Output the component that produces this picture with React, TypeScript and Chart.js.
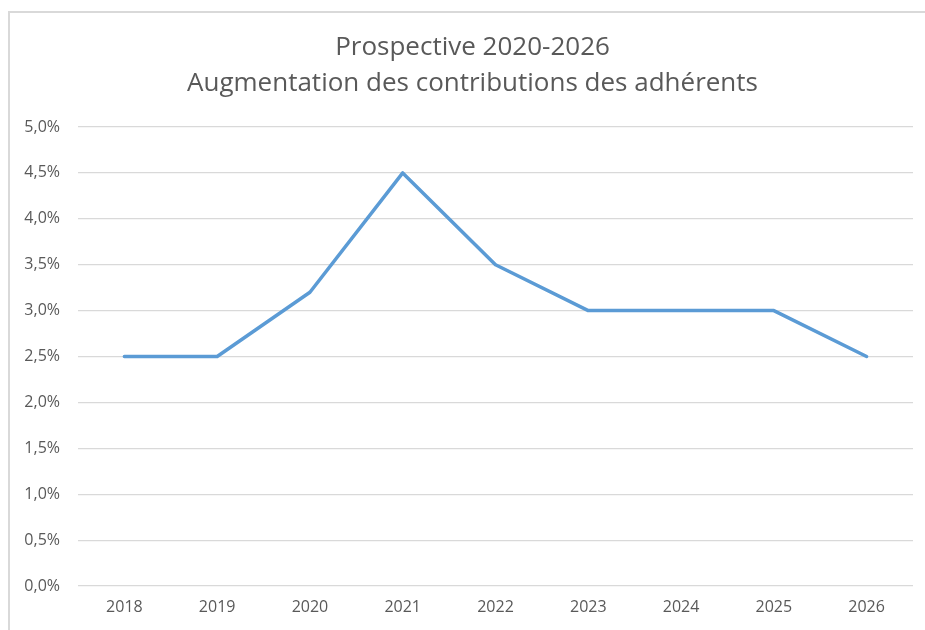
import React, { useEffect, useRef } from "react";
import { Chart, registerables } from "chart.js";

Chart.register(...registerables);

const years = ["2018", "2019", "2020", "2021", "2022", "2023", "2024", "2025", "2026"];
const contributions = [2.5, 2.5, 3.2, 4.5, 3.5, 3.0, 3.0, 3.0, 2.5];
const titleLines = ["Prospective 2020-2026", "Augmentation des contributions des adhérents"];
const yMin = 0;
const yMax = 5;
const yStep = 0.5;

const titleShift = {
  id: "titleShift",
  afterLayout(chart: any) {
    const t = chart.titleBlock;
    if (t) {
      t.left += 11;
      t.right += 11;
    }
  },
};

export default function App() {
  const ref = useRef<HTMLCanvasElement | null>(null);

  useEffect(() => {
    document.documentElement.style.overflow = "hidden";
    document.body.style.overflow = "hidden";
    const ctx = ref.current;
    if (!ctx) return;
    const textColor = "#595959";
    const font = "'Open Sans', 'Liberation Sans', sans-serif";
    const chart = new Chart(ctx, {
      type: "line",
      data: {
        labels: years,
        datasets: [
          {
            data: contributions,
            borderColor: "#5B9BD5",
            backgroundColor: "#5B9BD5",
            borderWidth: 3.5,
            pointRadius: 0,
            tension: 0,
            borderCapStyle: "round",
            borderJoinStyle: "round",
          },
        ],
      },
      options: {
        animation: false,
        responsive: true,
        maintainAspectRatio: false,
        layout: { padding: { left: 0, right: 12, top: 0, bottom: 0 } },
        plugins: {
          legend: { display: false },
          tooltip: { enabled: false },
          title: {
            display: true,
            text: titleLines,
            color: textColor,
            font: { family: font, size: 26, weight: "normal", lineHeight: 36 / 26 },
            padding: { top: 17, bottom: 25 },
          },
        },
        scales: {
          x: {
            offset: true,
            grid: { display: false, drawTicks: false },
            border: { display: false },
            ticks: {
              color: textColor,
              font: { family: font, size: 16 },
              padding: 12,
              maxRotation: 0,
            },
            afterFit: (scale: any) => {
              scale.height = 44;
            },
          },
          y: {
            min: yMin,
            max: yMax,
            grid: { color: "#d9d9d9", lineWidth: 1.2, drawTicks: false },
            border: { display: false },
            ticks: {
              stepSize: yStep,
              color: textColor,
              font: { family: font, size: 16 },
              padding: 18,
              callback: (v: any) => Number(v).toFixed(1).replace(".", ",") + "%",
            },
            afterFit: (scale: any) => {
              scale.width = 68;
            },
          },
        },
      },
      plugins: [titleShift],
    });
    return () => chart.destroy();
  }, []);

  return (
    <div
      style={{
        position: "fixed",
        left: 8,
        top: 11,
        width: 940,
        height: 640,
        borderLeft: "2px solid #d9d9d9",
        borderTop: "2px solid #d9d9d9",
        boxSizing: "border-box",
        background: "#fff",
      }}
    >
      <div style={{ position: "absolute", left: 0, top: 0, width: 915, height: 617 }}>
        <canvas ref={ref} />
      </div>
    </div>
  );
}
